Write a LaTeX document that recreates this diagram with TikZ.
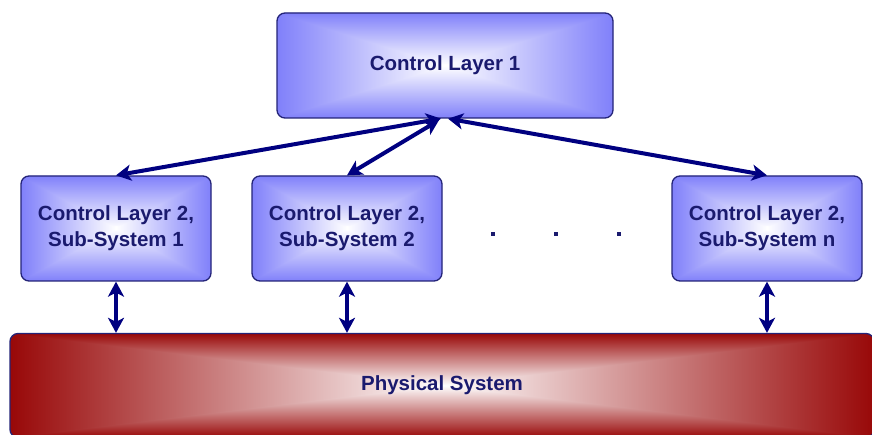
\documentclass[tikz,border=0pt]{standalone}
\usepackage{fontspec}
\setmainfont{Liberation Sans}
\usetikzlibrary{arrows.meta,calc}

\definecolor{boxblue}{RGB}{128,128,250}
\definecolor{boxred}{RGB}{152,8,8}
\definecolor{edgenavy}{RGB}{36,36,120}
\definecolor{textnavy}{RGB}{26,26,110}
\definecolor{arrownavy}{RGB}{0,0,128}

\tikzset{
  % rectangular gradient: coloured at every edge, white in the middle
  rectgrad/.style={
    path picture={
      \shade[left color=#1,right color=#1,middle color=white]
        (path picture bounding box.south west) rectangle (path picture bounding box.north east);
      \shade[top color=#1,bottom color=white]
        (path picture bounding box.north west) -- (path picture bounding box.center)
        -- (path picture bounding box.north east) -- cycle;
      \shade[bottom color=#1,top color=white]
        (path picture bounding box.south west) -- (path picture bounding box.center)
        -- (path picture bounding box.south east) -- cycle;
    }},
  layerbox/.style={draw=edgenavy, line width=1.3pt, rounded corners=8pt,
    rectgrad=boxblue, inner sep=0pt, align=center, text=textnavy,
    font=\fontsize{20.5}{26}\selectfont\bfseries},
  plantbox/.style={draw=edgenavy, line width=1.3pt, rounded corners=8pt,
    rectgrad=boxred, inner sep=0pt, align=center, text=textnavy,
    font=\fontsize{20.5}{26}\selectfont\bfseries},
  link/.style={draw=arrownavy, line width=4pt,
    {Stealth[length=15pt,width=16pt,inset=4pt]}-{Stealth[length=15pt,width=16pt,inset=4pt]}},
  dotmark/.style={fill=textnavy, minimum size=4pt, inner sep=0pt},
}

\begin{document}
\begin{tikzpicture}[x=1pt,y=-1pt]
  \useasboundingbox (0,0) rectangle (872,435);

  % upper control layer
  \node[layerbox, minimum width=336pt, minimum height=105pt] (top) at (445,65.5) {Control Layer 1};

  % lower control layer, one box per sub-system
  \node[layerbox, minimum width=190pt, minimum height=105pt] (sub1) at (116,228.5) {Control Layer 2,\\Sub-System 1};
  \node[layerbox, minimum width=190pt, minimum height=105pt] (sub2) at (347,228.5) {Control Layer 2,\\Sub-System 2};
  \node[layerbox, minimum width=190pt, minimum height=105pt] (subn) at (767,228.5) {Control Layer 2,\\Sub-System n};

  % ellipsis between sub-system 2 and n
  \node[dotmark] (dot1) at (493,234) {};
  \node[dotmark] (dot2) at (556,234) {};
  \node[dotmark] (dot3) at (619,234) {};

  % controlled plant
  \node[plantbox, minimum width=864pt, minimum height=104pt] (plant) at (442,385.5) {Physical System};

  % links between the layers
  \coordinate (tl) at ($(top.south)+(-4,0)$);
  \coordinate (tm) at ($(top.south)+(-6,1.5)$);
  \coordinate (tr) at ($(top.south)+(3,0)$);
  \draw[link] (tl) -- (sub1.north);
  \draw[link] (tm) -- (sub2.north);
  \draw[link] (tr) -- (subn.north);

  % links to the plant
  \draw[link] (sub1.south) -- (sub1.south |- plant.north);
  \draw[link] (sub2.south) -- (sub2.south |- plant.north);
  \draw[link] (subn.south) -- (subn.south |- plant.north);
\end{tikzpicture}
\end{document}
